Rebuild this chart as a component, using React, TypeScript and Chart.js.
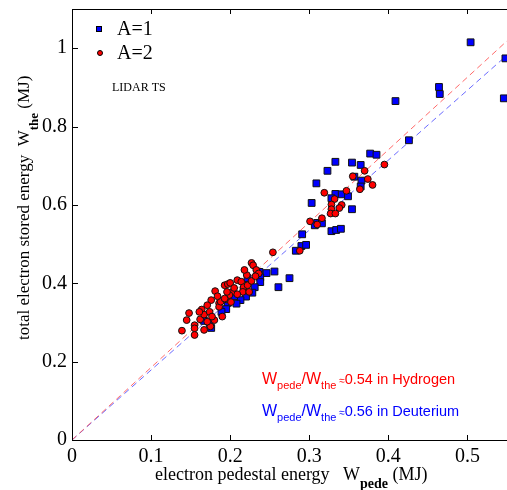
import React, { useEffect, useRef } from 'react';
import { Chart, registerables } from 'chart.js';
Chart.register(...registerables);

const xTickValues = [0, 0.1, 0.2, 0.3, 0.4, 0.5];
const xTickLabels = ['0', '0.1', '0.2', '0.3', '0.4', '0.5'];
const yTickValues = [0, 0.2, 0.4, 0.6, 0.8, 1];
const yTickLabels = ['0', '0.2', '0.4', '0.6', '0.8', '1'];
const xMin = 0, xMax = 0.55, yMin = 0, yMax = 1.1;

const hydrogenRatio = 0.54;
const deuteriumRatio = 0.56;

const a1X = [0.504, 0.548, 0.546, 0.464, 0.465, 0.409, 0.426, 0.377, 0.385, 0.333, 0.354, 0.365, 0.323, 0.357, 0.366, 0.309, 0.365, 0.333, 0.341, 0.349, 0.328, 0.303, 0.354, 0.310, 0.316, 0.307, 0.291, 0.328, 0.334, 0.340, 0.290, 0.296, 0.283, 0.237, 0.246, 0.256, 0.238, 0.238, 0.231, 0.261, 0.275, 0.228, 0.220, 0.213, 0.197, 0.195, 0.208, 0.174, 0.176, 0.222, 0.217, 0.205, 0.189, 0.167];
const a1Y = [1.015, 0.974, 0.872, 0.901, 0.883, 0.865, 0.765, 0.731, 0.728, 0.710, 0.708, 0.702, 0.687, 0.672, 0.662, 0.655, 0.647, 0.628, 0.627, 0.622, 0.617, 0.605, 0.589, 0.554, 0.553, 0.548, 0.525, 0.533, 0.536, 0.539, 0.495, 0.498, 0.483, 0.429, 0.426, 0.430, 0.415, 0.403, 0.390, 0.390, 0.413, 0.376, 0.366, 0.357, 0.350, 0.334, 0.348, 0.298, 0.286, 0.413, 0.383, 0.367, 0.327, 0.304];

const a2X = [0.355, 0.395, 0.370, 0.374, 0.380, 0.364, 0.319, 0.347, 0.332, 0.328, 0.341, 0.338, 0.328, 0.327, 0.333, 0.301, 0.316, 0.310, 0.288, 0.254, 0.227, 0.229, 0.221, 0.233, 0.181, 0.193, 0.197, 0.200, 0.209, 0.214, 0.217, 0.203, 0.216, 0.195, 0.199, 0.186, 0.139, 0.145, 0.155, 0.155, 0.155, 0.164, 0.162, 0.167, 0.174, 0.175, 0.180, 0.171, 0.177, 0.190, 0.186, 0.188, 0.193, 0.236, 0.205, 0.209, 0.222, 0.224, 0.227, 0.232, 0.218, 0.196, 0.184, 0.176, 0.171, 0.201, 0.161, 0.167, 0.148];
const a2Y = [0.673, 0.703, 0.687, 0.666, 0.651, 0.640, 0.631, 0.636, 0.615, 0.601, 0.600, 0.592, 0.589, 0.578, 0.578, 0.558, 0.566, 0.550, 0.483, 0.479, 0.452, 0.446, 0.421, 0.434, 0.380, 0.395, 0.398, 0.401, 0.408, 0.404, 0.390, 0.378, 0.378, 0.359, 0.370, 0.349, 0.279, 0.306, 0.293, 0.285, 0.268, 0.333, 0.308, 0.320, 0.327, 0.290, 0.306, 0.302, 0.315, 0.315, 0.340, 0.353, 0.361, 0.425, 0.388, 0.372, 0.395, 0.378, 0.406, 0.418, 0.434, 0.378, 0.367, 0.357, 0.344, 0.352, 0.327, 0.281, 0.324];

const SERIF = '"Liberation Serif", "DejaVu Serif", serif';
const SANS = '"Liberation Sans", Arial, sans-serif';

type Run = { t: string; font: string; dy: number };
function drawRuns(ctx: CanvasRenderingContext2D, runs: Run[], x: number, y: number, color: string) {
  ctx.fillStyle = color;
  ctx.textBaseline = 'middle';
  ctx.textAlign = 'left';
  let cx = x;
  for (const r of runs) {
    ctx.font = r.font;
    ctx.fillText(r.t, cx, y + r.dy);
    cx += ctx.measureText(r.t).width;
  }
}

const decorPlugin = {
  id: 'decor',
  afterDraw(chart: any) {
    const ctx: CanvasRenderingContext2D = chart.ctx;
    const { left, top, bottom, right } = chart.chartArea;
    const xs = chart.scales.x, ys = chart.scales.y;
    ctx.save();
    ctx.strokeStyle = '#000';
    ctx.lineWidth = 1;
    ctx.beginPath();
    ctx.moveTo(left + 0.5, top + 0.5);
    ctx.lineTo(right + 2, top + 0.5);
    ctx.moveTo(left + 0.5, top + 0.5);
    ctx.lineTo(left + 0.5, bottom + 0.5);
    ctx.lineTo(right + 2, bottom + 0.5);
    for (const v of xTickValues) {
      const px = Math.round(xs.getPixelForValue(v)) + 0.5;
      ctx.moveTo(px, bottom);
      ctx.lineTo(px, bottom - 5);
      ctx.moveTo(px, top);
      ctx.lineTo(px, top + 5);
    }
    for (const v of yTickValues) {
      const py = Math.round(ys.getPixelForValue(v)) + 0.5;
      ctx.moveTo(left, py);
      ctx.lineTo(left + 6, py);
    }
    ctx.stroke();

    // legend
    ctx.fillStyle = '#0000ff';
    ctx.strokeStyle = '#000';
    ctx.fillRect(96.5, 26.5, 5, 5);
    ctx.strokeRect(96.5, 26.5, 5, 5);
    ctx.beginPath();
    ctx.arc(100, 53, 2.5, 0, Math.PI * 2);
    ctx.fillStyle = '#ff0000';
    ctx.fill();
    ctx.stroke();
    ctx.fillStyle = '#000';
    ctx.font = `20px ${SERIF}`;
    ctx.textBaseline = 'middle';
    ctx.fillText('A=1', 117, 30);
    ctx.fillText('A=2', 117, 54);
    ctx.font = `12px ${SERIF}`;
    ctx.fillText('LIDAR TS', 112, 88);

    // annotations
    const big = `16px ${SANS}`, sub = `11px ${SANS}`, approx = `10px ${SANS}`, rest = `14.5px ${SANS}`;
    drawRuns(ctx, [
      { t: 'W', font: big, dy: 0 }, { t: 'pede', font: sub, dy: 6 }, { t: '/W', font: big, dy: 0 },
      { t: 'the', font: sub, dy: 6 }, { t: ' \u2248', font: approx, dy: 1 }, { t: '0.54 in Hydrogen', font: rest, dy: 0 },
    ], 262, 380, '#ff0000');
    drawRuns(ctx, [
      { t: 'W', font: big, dy: 0 }, { t: 'pede', font: sub, dy: 6 }, { t: '/W', font: big, dy: 0 },
      { t: 'the', font: sub, dy: 6 }, { t: ' \u2248', font: approx, dy: 1 }, { t: '0.56 in Deuterium', font: rest, dy: 0 },
    ], 262, 412, '#0000ff');

    // x title
    drawRuns(ctx, [
      { t: 'electron pedestal energy   W', font: `18px ${SERIF}`, dy: 0 },
      { t: 'pede', font: `bold 14px ${SERIF}`, dy: 9 },
      { t: ' (MJ)', font: `18px ${SERIF}`, dy: 0 },
    ], 155, 475, '#000');

    // y title
    ctx.translate(25, 340);
    ctx.rotate(-Math.PI / 2);
    drawRuns(ctx, [
      { t: 'total electron stored energy  W', font: `17px ${SERIF}`, dy: 0 },
      { t: 'the', font: `bold 13px ${SERIF}`, dy: 10 },
      { t: ' (MJ)', font: `17px ${SERIF}`, dy: 0 },
    ], 0, 0, '#000');
    ctx.restore();
  },
};

export default function App() {
  const ref = useRef<HTMLCanvasElement | null>(null);
  useEffect(() => {
    document.body.style.margin = '0';
    const canvas = ref.current!;
    const a1 = a1X.map((x, i) => ({ x, y: a1Y[i] }));
    const a2 = a2X.map((x, i) => ({ x, y: a2Y[i] }));
    const hLine = [{ x: xMin, y: 0 }, { x: xMax, y: xMax / hydrogenRatio }];
    const dLine = [{ x: xMin, y: 0 }, { x: xMax, y: xMax / deuteriumRatio }];
    const chart = new Chart(canvas, {
      type: 'scatter',
      data: {
        datasets: [
          { label: 'A=2', data: a2, pointStyle: 'circle', radius: 3.4, backgroundColor: '#ff0000', borderColor: '#111', borderWidth: 1 },
          { label: 'A=1', data: a1, pointStyle: 'rect', radius: 4.8, backgroundColor: '#0000ff', borderColor: '#111', borderWidth: 1 },
          { type: 'line', label: 'H', data: hLine, borderColor: 'rgba(255,80,80,0.85)', borderWidth: 1, borderDash: [6, 4], pointRadius: 0, fill: false } as any,
          { type: 'line', label: 'D', data: dLine, borderColor: 'rgba(80,80,255,0.85)', borderWidth: 1, borderDash: [6, 4], pointRadius: 0, fill: false } as any,
        ],
      },
      options: {
        animation: false,
        responsive: false,
        devicePixelRatio: 1,
        layout: { autoPadding: false, padding: { top: 9, right: 0, left: 0, bottom: 0 } },
        plugins: { legend: { display: false }, tooltip: { enabled: false } },
        scales: {
          x: {
            type: 'linear', min: xMin, max: xMax,
            grid: { display: false, drawTicks: false },
            border: { display: false },
            afterBuildTicks: (s: any) => { s.ticks = xTickValues.map((v) => ({ value: v })); },
            afterFit: (s: any) => { s.height = 50; s.paddingLeft = 0; s.paddingRight = 0; s.paddingTop = 0; s.paddingBottom = 0; },
            ticks: {
              padding: 5, color: '#000', font: { family: SERIF, size: 20 }, maxRotation: 0,
              callback: (_v: any, i: number) => xTickLabels[i],
            },
          },
          y: {
            type: 'linear', min: yMin, max: yMax,
            grid: { display: false, drawTicks: false },
            border: { display: false },
            afterBuildTicks: (s: any) => { s.ticks = yTickValues.map((v) => ({ value: v })); },
            afterFit: (s: any) => { s.width = 72; s.paddingTop = 0; s.paddingBottom = 0; s.paddingLeft = 0; s.paddingRight = 0; },
            ticks: {
              padding: 5, color: '#000', font: { family: SERIF, size: 20 },
              callback: (_v: any, i: number) => yTickLabels[i],
            },
          },
        },
      },
      plugins: [decorPlugin],
    });
    return () => chart.destroy();
  }, []);
  return <canvas ref={ref} width={507} height={490} style={{ display: 'block' }} />;
}
